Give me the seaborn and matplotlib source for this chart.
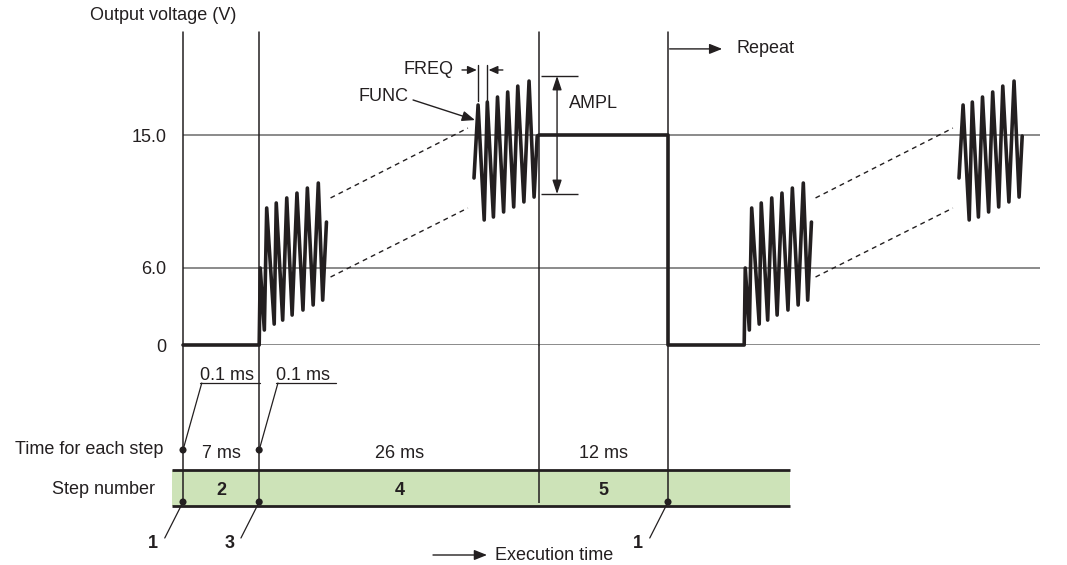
import numpy as np
import pandas as pd
import matplotlib.pyplot as plt
import seaborn as sns

# -------------------------
# Step program
# -------------------------
step_numbers = [1, 2, 3, 4, 5]
step_ms = [0.1, 7, 0.1, 26, 12]
step_volts = [0.0, 0.0, 6.0, 6.0, 15.0]
level_values = [0, 6.0, 15.0]
level_labels = ["0", "6.0", "15.0"]
ampl_half_v = 4.0

# FUNC burst at the start of step 4 (ms after step-4 start, volts)
burst_a_t = [0.00, 0.38, 0.60, 1.30, 1.49, 2.09, 2.47, 2.97, 3.42, 3.98, 4.39, 4.93, 5.41, 5.82, 6.17]
burst_a_v = [6.00, 1.81, 10.06, 2.21, 10.40, 2.48, 10.74, 2.82, 11.07, 3.16, 11.41, 3.50, 11.75, 3.83, 9.11]
# FUNC burst at the end of step 4
burst_b_t = [19.92, 20.30, 20.87, 21.16, 21.73, 22.11, 22.68, 23.06, 23.62, 24.00, 24.57, 25.05, 25.52, 25.81]
burst_b_v = [12.09, 17.03, 9.25, 17.23, 9.45, 17.57, 9.79, 17.91, 10.13, 18.31, 10.47, 18.65, 10.80, 14.93]
# dashed envelope in between
env_t = [6.55, 19.35]
env_hi_v = [10.74, 15.47]
env_lo_v = [5.39, 10.06]

# -------------------------
# Build the waveform table
# -------------------------
starts = np.concatenate([[0.0], np.cumsum(step_ms)[:-1]])
cycle_ms = float(np.sum(step_ms))
s3, s4, s5 = starts[2], starts[3], starts[4]

def add(df_rows, seg, ts, vs):
    df_rows.extend({"seg": seg, "t": t, "v": v} for t, v in zip(ts, vs))

rows = []
add(rows, 0, [0, s3], [step_volts[0], step_volts[1]])
add(rows, 0, s4 + np.array(burst_a_t), burst_a_v)
add(rows, 1, s4 + np.array(burst_b_t), burst_b_v)
add(rows, 1, [s5, cycle_ms, cycle_ms, cycle_ms + s3],
    [step_volts[4], step_volts[4], step_volts[0], step_volts[1]])
add(rows, 1, cycle_ms + s4 + np.array(burst_a_t), burst_a_v)
add(rows, 2, cycle_ms + s4 + np.array(burst_b_t), burst_b_v)
wave = pd.DataFrame(rows)

env_rows = []
for c in range(2):
    t0 = c * cycle_ms + s4
    add(env_rows, 2 * c, t0 + np.array(env_t), env_hi_v)
    add(env_rows, 2 * c + 1, t0 + np.array(env_t), env_lo_v)
env = pd.DataFrame(env_rows)

# -------------------------
# Figure setup
# -------------------------
W, H = 1067, 565
K = 485 / cycle_ms          # px per ms
INK = "#231f20"
GRID = "#6b6b6b"
GREEN = "#cde3b8"
FS = 13

sns.set_theme(style="white")
plt.rcParams["font.family"] = ["Liberation Sans", "DejaVu Sans"]
plt.rcParams["text.color"] = INK

fig = plt.figure(figsize=(W / 100, H / 100), dpi=100)
ax = fig.add_axes([183 / W, (H - 345) / H, 857 / W, 313 / H])
tax = fig.add_axes([183 / W, 0, 857 / W, 220 / H])

sns.lineplot(data=wave, x="t", y="v", units="seg", estimator=None, sort=False,
             color=INK, linewidth=2.6, ax=ax, zorder=3)
sns.lineplot(data=env, x="t", y="v", units="seg", estimator=None, sort=False,
             color=INK, linewidth=1.0, ax=ax, zorder=3)
for i, ln in enumerate(ax.lines):
    ln.set_clip_on(False)
    if i >= 3:
        ln.set_dashes([3.5, 3])

# schematic voltage scale: baseline squeezed below 1 V
v_nodes = [-10, 0, 1, 6, 15, 40]
h_nodes = [-30, 0, 3, 77, 210, 210 + 25 * 133 / 9]
def fwd(v):
    return np.interp(v, v_nodes, h_nodes)
def inv(h):
    return np.interp(h, h_nodes, v_nodes)

ax.set_yscale("function", functions=(fwd, inv))
ax.set_ylim(0, float(inv(313)))
ax.set_xlim(0, 857 / K)
ax.set_yticks(level_values, level_labels)
ax.set_xticks([])
ax.set_xlabel("")
ax.set_ylabel("")
ax.yaxis.grid(True, color=GRID, linewidth=1.1)
ax.set_axisbelow(True)
ax.tick_params(axis="y", length=0, pad=12, labelsize=FS, labelcolor=INK)
sns.despine(ax=ax, left=True, bottom=True)

# step boundary lines
line_ts = [starts[0], starts[2], starts[4], cycle_ms]
for ts in line_ts:
    ax.axvline(ts, color=INK, lw=1.1, zorder=2, clip_on=False)

fig.text(90 / W, 1 - 16 / H, "Output voltage (V)", fontsize=FS, va="center", ha="left")

# -------------------------
# FUNC / FREQ / AMPL annotations
# -------------------------
arrow = dict(arrowstyle="-|>,head_length=0.55,head_width=0.22", color=INK, lw=1,
             mutation_scale=14, shrinkA=0, shrinkB=0)
small_arrow = dict(arrowstyle="-|>,head_length=0.45,head_width=0.2", color=INK, lw=1,
                   mutation_scale=12, shrinkA=0, shrinkB=0)

pk1_t, pk1_v = s4 + burst_b_t[1], burst_b_v[1]
pk2_t = s4 + burst_b_t[3]

ax.annotate("", xy=(pk1_t - 0.29, pk1_v - 1.02), xytext=(pk1_t - 6.06, pk1_v + 0.34),
            arrowprops=arrow, annotation_clip=False)
ax.text(pk1_t - 6.5, pk1_v + 0.6, "FUNC", fontsize=FS, ha="right", va="center")

for pt in (pk1_t, pk2_t):
    ax.plot([pt, pt], [17.3, 19.75], color=INK, lw=1, clip_on=False)
ax.annotate("", xy=(pk1_t - 0.12, 19.4), xytext=(pk1_t - 1.5, 19.4), arrowprops=small_arrow)
ax.annotate("", xy=(pk2_t + 0.12, 19.4), xytext=(pk2_t + 1.45, 19.4), arrowprops=small_arrow)
ax.text(pk1_t - 2.3, 19.4, "FREQ", fontsize=FS, ha="right", va="center")

amp_x = s5 + 1.66
top_v, bot_v = step_volts[4] + ampl_half_v, step_volts[4] - ampl_half_v
ax.hlines([top_v, bot_v], s5 + 0.16, s5 + 3.61, color=INK, lw=1)
ax.annotate("", xy=(amp_x, top_v), xytext=(amp_x, bot_v),
            arrowprops=dict(arrowstyle="<|-|>,head_length=0.6,head_width=0.2", color=INK,
                            lw=1, mutation_scale=14, shrinkA=0, shrinkB=0))
ax.text(s5 + 2.75, 17.16, "AMPL", fontsize=FS, ha="left", va="center")

xt = ax.get_xaxis_transform()
ax.annotate("", xy=(cycle_ms + 5.05, 0.946), xytext=(cycle_ms + 0.15, 0.946),
            xycoords=xt, textcoords=xt, arrowprops=arrow)
ax.text(cycle_ms + 6.35, 0.946, "Repeat", transform=xt, fontsize=FS, ha="left", va="center")

# -------------------------
# Step table below the chart (y = pixel rows)
# -------------------------
bar_left, bar_right = -1.0, cycle_ms + 11.4
tax.fill_between([bar_left, bar_right], 469.5, 506, color=GREEN, lw=0, zorder=0, clip_on=False)
tax.hlines([469.5, 506], bar_left, bar_right, color=INK, lw=2.0, clip_on=False, zorder=1)
tax.vlines(line_ts, 345, 503, color=INK, lw=1.1, clip_on=False, zorder=2)

# 0.1 ms call-outs for steps 1 and 3
for i in (0, 2):
    ts = starts[i]
    tax.plot([ts, ts + 1.75], [450, 383], color=INK, lw=0.9, clip_on=False)
    tax.plot([ts + 1.55, ts + 7.2], [383, 383], color=INK, lw=0.9, clip_on=False)
    tax.text(ts + 1.6, 375, f"{step_ms[i]:g} ms", fontsize=FS, ha="left", va="center")

# step durations and numbers for steps 2, 4, 5
for i in (1, 3, 4):
    xc = starts[i] + step_ms[i] / 2
    tax.text(xc, 453, f"{step_ms[i]:g} ms", fontsize=FS, ha="center", va="center")
    tax.text(xc, 490, str(step_numbers[i]), fontsize=FS, fontweight="bold",
             ha="center", va="center")

# numbered leaders for the short steps
short_ts = [starts[0], starts[2], cycle_ms]
short_nums = [step_numbers[0], step_numbers[2], step_numbers[0]]
for ts, n in zip(short_ts, short_nums):
    tax.plot([ts, ts - 1.7], [502, 538], color=INK, lw=0.9, clip_on=False)
    tax.text(ts - 2.8, 543, str(n), fontsize=FS, fontweight="bold", ha="center", va="center")

dots = pd.DataFrame({"t": [starts[0], starts[2]] + short_ts,
                     "y": [450, 450, 502, 502, 502]})
sns.scatterplot(data=dots, x="t", y="y", ax=tax, color=INK, s=26,
                edgecolor="none", clip_on=False, zorder=4)
tax.set_xlim(ax.get_xlim())
tax.set_ylim(565, 345)
tax.axis("off")

fig.text(163 / W, 1 - 450 / H, "Time for each step", fontsize=FS, ha="right", va="center")
fig.text(155 / W, 1 - 490 / H, "Step number", fontsize=FS, ha="right", va="center")

ax.annotate("", xy=(487 / W, 1 - 555 / H), xytext=(433 / W, 1 - 555 / H),
            xycoords="figure fraction", textcoords="figure fraction", arrowprops=arrow)
fig.text(495 / W, 1 - 555 / H, "Execution time", fontsize=FS, ha="left", va="center")

fig.savefig("out.png", dpi=100)
